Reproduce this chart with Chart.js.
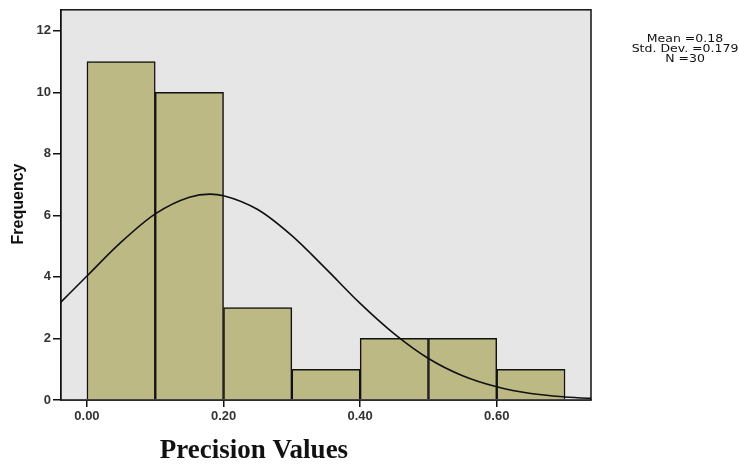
<!DOCTYPE html>
<html>
<head>
<meta charset="utf-8">
<script src="https://cdn.jsdelivr.net/npm/chart.js@4"></script>
<style>
  body { margin: 0; background: #fff; }
  canvas { display: block; }
</style>
</head>
<body>
<canvas id="hist" width="739" height="466"></canvas>
<script>
// histogram bins (centres) and frequencies
const binCentres = [0.05, 0.15, 0.25, 0.35, 0.45, 0.55, 0.65];
const frequencies = [11, 10, 3, 1, 2, 2, 1];

// normal curve
const curveX = [-0.04, 0.00, 0.05, 0.10, 0.15, 0.18, 0.20, 0.25, 0.30, 0.35, 0.40, 0.45, 0.50, 0.55, 0.60, 0.65, 0.70, 0.75];
const curveY = [3.14, 4.03, 5.13, 6.05, 6.59, 6.69, 6.64, 6.19, 5.34, 4.26, 3.14, 2.15, 1.35, 0.79, 0.43, 0.21, 0.10, 0.04];

const xTicks = [0, 0.2, 0.4, 0.6];
const yTicks = [0, 2, 4, 6, 8, 10, 12];
const stats = ['Mean =0.18', 'Std. Dev. =0.179', 'N =30'];

const decor = {
  id: 'decor',
  beforeDatasetsDraw(chart) {
    const { ctx, chartArea: a } = chart;
    ctx.save();
    ctx.fillStyle = '#e6e6e6';
    ctx.fillRect(a.left, a.top, a.right - a.left, a.bottom - a.top);
    ctx.restore();
  },
  afterDraw(chart) {
    const { ctx, chartArea: a } = chart;
    ctx.save();
    ctx.strokeStyle = '#111';
    ctx.lineWidth = 1.5;
    ctx.strokeRect(a.left, a.top, a.right - a.left, a.bottom - a.top);

    ctx.fillStyle = '#111';
    ctx.textAlign = 'center';
    ctx.textBaseline = 'middle';

    // stats block, slightly stretched like the original
    ctx.save();
    ctx.translate(685, 0);
    ctx.scale(1.25, 1);
    ctx.font = '10px "DejaVu Sans", "Liberation Sans", Arial, sans-serif';
    stats.forEach((s, i) => ctx.fillText(s, 0, 39 + i * 10));
    ctx.restore();

    ctx.font = 'bold 27px "Liberation Serif", "Times New Roman", serif';
    ctx.fillText('Precision Values', 254, 451);

    ctx.translate(19, 204);
    ctx.rotate(-Math.PI / 2);
    ctx.font = 'bold 16px "Liberation Sans", Arial, sans-serif';
    ctx.fillText('Frequency', 0, 0);
    ctx.restore();
  }
};

new Chart(document.getElementById('hist'), {
  type: 'bar',
  data: {
    datasets: [
      {
        type: 'line',
        data: curveX.map((x, i) => ({ x: x, y: curveY[i] })),
        borderColor: '#111',
        borderWidth: 1.6,
        pointRadius: 0,
        cubicInterpolationMode: 'monotone',
        fill: false,
        order: 0
      },
      {
        data: binCentres.map((x, i) => ({ x: x, y: frequencies[i] })),
        backgroundColor: '#bdb985',
        borderColor: '#111',
        borderWidth: 1.5,
        barPercentage: 1,
        categoryPercentage: 1,
        order: 1
      }
    ]
  },
  options: {
    responsive: false,
    animation: false,
    layout: { padding: { left: 0, top: 8, right: 148, bottom: 0 } },
    plugins: { legend: { display: false }, tooltip: { enabled: false } },
    scales: {
      x: {
        type: 'linear',
        offset: false,
        min: -0.038,
        max: 0.738,
        afterBuildTicks: s => { s.ticks = xTicks.map(v => ({ value: v })); },
        afterFit: s => { s.height = 66; },
        grid: { offset: false, drawOnChartArea: false, drawTicks: true, tickLength: 7, color: '#111', lineWidth: 1.5 },
        border: { display: true, color: '#111', width: 1.5 },
        ticks: {
          callback: v => v.toFixed(2),
          color: '#333',
          font: { family: '"Liberation Sans", Arial, sans-serif', size: 13, weight: 'bold' },
          padding: 2,
          maxRotation: 0
        }
      },
      y: {
        min: 0,
        max: 12.68,
        afterBuildTicks: s => { s.ticks = yTicks.map(v => ({ value: v })); },
        afterFit: s => { s.width = 61; },
        grid: { drawOnChartArea: false, drawTicks: true, tickLength: 8, color: '#111', lineWidth: 1.5 },
        border: { display: true, color: '#111', width: 1.5 },
        ticks: {
          color: '#333',
          font: { family: '"Liberation Sans", Arial, sans-serif', size: 13, weight: 'bold' },
          padding: 2
        }
      }
    }
  },
  plugins: [decor]
});
</script>
</body>
</html>
